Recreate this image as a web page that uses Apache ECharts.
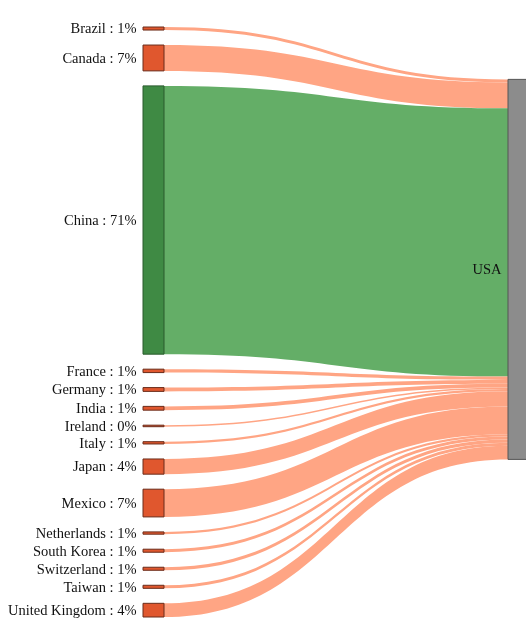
<!DOCTYPE html>
<html>
<head>
<meta charset="utf-8">
<script src="https://cdn.jsdelivr.net/npm/echarts@6/dist/echarts.min.js"></script>
<style>
html, body { margin: 0; padding: 0; background: #fff; }
#chart { width: 526px; height: 623px; }
</style>
</head>
<body>
<div id="chart"></div>
<script>
var countries = ['Brazil', 'Canada', 'China', 'France', 'Germany', 'India', 'Ireland', 'Italy',
    'Japan', 'Mexico', 'Netherlands', 'South Korea', 'Switzerland', 'Taiwan', 'United Kingdom'];
var shares = [0.8, 6.8, 70.6, 0.9, 1.0, 1.0, 0.4, 0.6, 4.0, 7.3, 0.6, 0.8, 0.8, 0.8, 3.6];
var target = 'USA';
var highlight = 'China';

var chart = echarts.init(document.getElementById('chart'));

var box = { top: 27, bottom: 6, gap: 15 };
var boxHeight = 623 - box.top - box.bottom;

var total = 0;
for (var i = 0; i < shares.length; i++) total += shares[i];

// keep the source column in data order (no relaxation), and put the target
// node at the value-weighted centre of its sources, as a relaxed layout would
var ky = (boxHeight - (shares.length - 1) * box.gap) / total;
var y = 0, weighted = 0;
for (var i = 0; i < shares.length; i++) {
    weighted += (y + shares[i] * ky / 2) * shares[i];
    y += shares[i] * ky + box.gap;
}
var targetTop = weighted / total - total * ky / 2;

var nodes = [], links = [];
for (var i = 0; i < countries.length; i++) {
    var hot = countries[i] === highlight;
    nodes.push({
        name: countries[i],
        itemStyle: {
            color: hot ? '#3f8a44' : '#e0572e',
            borderColor: hot ? '#2a5a2d' : '#6a2c1a',
            borderWidth: 1
        }
    });
    links.push({
        source: countries[i],
        target: target,
        value: shares[i],
        lineStyle: { color: hot ? '#64ae67' : '#ffa584', opacity: 1 }
    });
}
nodes.push({
    name: target,
    localY: targetTop / boxHeight,
    itemStyle: { color: '#8c8c8c', borderColor: '#555555', borderWidth: 1 }
});

var option = {
    animation: false,
    series: [{
        type: 'sankey',
        left: 143,
        right: -3,
        top: box.top,
        bottom: box.bottom,
        nodeWidth: 21,
        nodeGap: box.gap,
        layoutIterations: 0,
        draggable: false,
        data: nodes,
        links: links,
        lineStyle: { curveness: 0.5 },
        emphasis: { disabled: true },
        label: {
            position: 'left',
            distance: 6,
            offset: [0, 1],
            fontFamily: '"Liberation Serif", "Times New Roman", serif',
            fontSize: 14.5,
            color: '#111',
            formatter: function (p) {
                if (p.name === target) return p.name;
                var v = shares[countries.indexOf(p.name)];
                return p.name + ' : ' + Math.round(v / total * 100) + '%';
            }
        }
    }]
};

chart.setOption(option);
</script>
</body>
</html>
